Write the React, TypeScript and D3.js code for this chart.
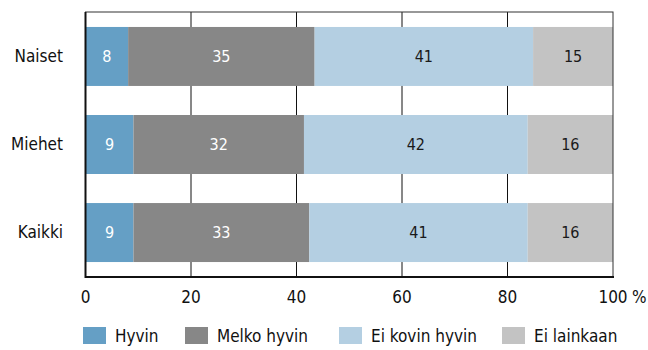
import React from 'react';
import * as d3 from 'd3';

const groups = ['Naiset', 'Miehet', 'Kaikki'];
const answers = ['Hyvin', 'Melko hyvin', 'Ei kovin hyvin', 'Ei lainkaan'];
const hyvin = [8, 9, 9];
const melkoHyvin = [35, 32, 33];
const eiKovinHyvin = [41, 42, 41];
const eiLainkaan = [15, 16, 16];
const xTicks = [0, 20, 40, 60, 80, 100];

const colors = ['#659fc5', '#878787', '#b4cfe2', '#c3c3c3'];
const textColors = ['#ffffff', '#ffffff', '#1a1a1a', '#1a1a1a'];
const font = "'Liberation Sans Narrow', 'DejaVu Sans Condensed', sans-serif";

const App = () => {
  const width = 648;
  const height = 350;
  const left = 85.5;
  const right = 613;
  const top = 12;
  const bottom = 277;

  const rows = groups.map((g, i) => ({
    group: g,
    Hyvin: hyvin[i],
    'Melko hyvin': melkoHyvin[i],
    'Ei kovin hyvin': eiKovinHyvin[i],
    'Ei lainkaan': eiLainkaan[i],
  }));

  // shares drawn as 100 %, labels keep the rounded values
  const series = d3.stack<any>().keys(answers).offset(d3.stackOffsetExpand)(rows);

  const x = d3.scaleLinear().domain([0, 100]).range([left, right]);
  const y = d3
    .scaleBand()
    .domain(groups)
    .range([top, bottom])
    .paddingInner(0.33)
    .paddingOuter(0.17);

  return (
    <svg width={width} height={height} style={{ position: 'absolute', left: 0, top: 0 }}>
      <rect width={width} height={height} fill="#fff" />
      {/* grid */}
      {xTicks.slice(1, -1).map((t) => (
        <line key={t} x1={x(t)} x2={x(t)} y1={top} y2={bottom} stroke="#111" strokeWidth={1} />
      ))}
      {series.map((s, si) => (
        <g key={s.key}>
          {s.map((d, i) => {
            const x0 = x(d[0] * 100);
            const x1 = x(d[1] * 100);
            return (
              <g key={groups[i]}>
                <rect x={x0} y={y(groups[i])} width={x1 - x0} height={y.bandwidth()} fill={colors[si]} />
                <text
                  x={(x0 + x1) / 2}
                  y={(y(groups[i]) as number) + y.bandwidth() / 2}
                  dy="0.35em"
                  textAnchor="middle"
                  fontFamily={font}
                  fontSize={16}
                  fill={textColors[si]}
                >
                  {(d.data as any)[s.key]}
                </text>
              </g>
            );
          })}
        </g>
      ))}
      {/* frame */}
      <rect x={left} y={top} width={right - left} height={bottom - top} fill="none" stroke="#333" strokeWidth={1} />
      <line x1={left} x2={left} y1={top} y2={bottom + 1} stroke="#111" strokeWidth={2} />
      <line x1={left} x2={right + 1} y1={bottom} y2={bottom} stroke="#111" strokeWidth={2} />
      {/* category labels */}
      {groups.map((g) => (
        <text
          key={g}
          x={63}
          y={(y(g) as number) + y.bandwidth() / 2}
          dy="0.35em"
          textAnchor="end"
          fontFamily={font}
          fontSize={17}
          fill="#111"
        >
          {g}
        </text>
      ))}
      {/* x tick labels */}
      {xTicks.map((t) => (
        <text key={t} x={x(t)} y={303} textAnchor="middle" fontFamily={font} fontSize={17} fill="#111">
          {t}
        </text>
      ))}
      <text x={x(100) + 19} y={303} fontFamily={font} fontSize={17} fill="#111">
        %
      </text>
      {/* legend */}
      {answers.map((a, i) => {
        const lx = [83, 185, 339, 502][i];
        return (
          <g key={a}>
            <rect x={lx} y={327} width={23} height={17} fill={colors[i]} />
            <text x={lx + 32} y={336} dy="0.35em" fontFamily={font} fontSize={17} fill="#111">
              {a}
            </text>
          </g>
        );
      })}
    </svg>
  );
};

export default App;
